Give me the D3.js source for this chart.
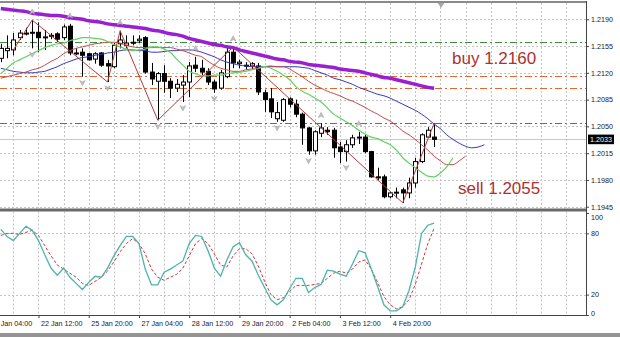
<!DOCTYPE html>
<html><head><meta charset="utf-8">
<script src="https://cdn.jsdelivr.net/npm/d3@7"></script>
<style>
body{margin:0;background:#fff;}
svg{display:block;font-family:"Liberation Sans",Arial,sans-serif;}
</style>
</head><body>
<svg id="c" width="620" height="337"></svg>
<script>
// ---------------- DATA ----------------
const open = [1.2139,1.2149,1.2150,1.2166,1.2172,1.2172,1.2173,1.2166,1.2168,1.2171,
1.2166,1.2181,1.2146,1.2147,1.2145,1.2138,1.2146,1.2132,1.2128,1.2158,
1.2156,1.2160,1.2162,1.2166,1.2121,1.2109,1.2119,1.2109,1.2100,1.2104,
1.2108,1.2130,1.2126,1.2122,1.2108,1.2100,1.2115,1.2147,1.2132,1.2130,
1.2129,1.2129,1.2094,1.2086,1.2060,1.2058,1.2086,1.2079,1.2066,1.2048,
1.2018,1.2041,1.2045,1.2045,1.2023,1.2017,1.2026,1.2035,1.2036,1.2017,
1.1984,1.1984,1.1958,1.1963,1.1967,1.1963,1.1976,1.2004,1.2036,1.2036];
const high = [1.2158,1.2169,1.2172,1.2176,1.2179,1.2189,1.2186,1.2176,1.2172,1.2173,
1.2183,1.2184,1.2152,1.2152,1.2146,1.2147,1.2147,1.2137,1.2159,1.2175,
1.2169,1.2169,1.2169,1.2168,1.2133,1.2121,1.2130,1.2113,1.2112,1.2117,
1.2134,1.2141,1.2137,1.2126,1.2111,1.2124,1.2156,1.2154,1.2137,1.2134,
1.2134,1.2133,1.2098,1.2100,1.2082,1.2087,1.2088,1.2085,1.2068,1.2049,
1.2045,1.2054,1.2049,1.2048,1.2030,1.2032,1.2039,1.2043,1.2039,1.2018,
1.1996,1.1987,1.1964,1.1970,1.1970,1.1983,1.2009,1.2041,1.2049,1.2054];
const low = [1.2134,1.2139,1.2143,1.2163,1.2169,1.2152,1.2147,1.2150,1.2164,1.2160,
1.2163,1.2143,1.2143,1.2115,1.2136,1.2132,1.2128,1.2108,1.2126,1.2152,
1.2152,1.2156,1.2159,1.2119,1.2104,1.2058,1.2094,1.2087,1.2095,1.2082,
1.2088,1.2121,1.2117,1.2104,1.2094,1.2098,1.2113,1.2126,1.2126,1.2124,
1.2124,1.2091,1.2069,1.2061,1.2056,1.2056,1.2075,1.2062,1.2026,1.2013,
1.2013,1.2036,1.2039,1.2009,1.2002,1.2004,1.2022,1.2027,1.2015,1.1983,
1.1980,1.1956,1.1956,1.1956,1.1950,1.1956,1.1970,1.2002,1.2035,1.2023];
const close = [1.2152,1.2152,1.2163,1.2172,1.2171,1.2173,1.2166,1.2167,1.2169,1.2164,
1.2180,1.2146,1.2145,1.2143,1.2137,1.2145,1.2130,1.2129,1.2156,1.2163,
1.2159,1.2159,1.2164,1.2121,1.2112,1.2119,1.2109,1.2100,1.2105,1.2108,
1.2129,1.2126,1.2121,1.2108,1.2099,1.2120,1.2147,1.2133,1.2134,1.2129,
1.2132,1.2095,1.2085,1.2069,1.2068,1.2085,1.2079,1.2066,1.2048,1.2018,
1.2043,1.2048,1.2043,1.2022,1.2017,1.2026,1.2035,1.2036,1.2017,1.1984,
1.1983,1.1958,1.1963,1.1964,1.1963,1.1976,1.2004,1.2039,1.2045,1.2033];

const maSlow = [1.2204,1.2203,1.2202,1.2201,1.2200,1.2198,1.2197,1.2196,1.2195,1.2195,
1.2194,1.2192,1.2191,1.2190,1.2188,1.2187,1.2186,1.2184,1.2183,1.2182,
1.2181,1.2180,1.2179,1.2178,1.2176,1.2175,1.2173,1.2171,1.2170,1.2168,
1.2165,1.2163,1.2161,1.2159,1.2157,1.2156,1.2154,1.2153,1.2150,1.2148,
1.2146,1.2144,1.2142,1.2140,1.2138,1.2137,1.2135,1.2134,1.2133,1.2131,
1.2130,1.2129,1.2128,1.2127,1.2125,1.2124,1.2123,1.2122,1.2120,1.2118,
1.2116,1.2114,1.2113,1.2111,1.2109,1.2107,1.2105,1.2103,1.2101,1.2100];

const jaw = [1.2126,1.2124,1.2122,1.2121,1.2120,1.2120,1.2121,1.2122,1.2125,1.2128,
1.2132,1.2135,1.2138,1.2140,1.2141,1.2143,1.2144,1.2146,1.2147,1.2149,
1.2150,1.2150,1.2149,1.2149,1.2147,1.2147,1.2148,1.2149,1.2149,1.2150,
1.2150,1.2149,1.2147,1.2144,1.2141,1.2137,1.2134,1.2132,1.2130,1.2129,
1.2128,1.2128,1.2128,1.2128,1.2128,1.2128,1.2128,1.2128,1.2127,1.2126,
1.2123,1.2120,1.2117,1.2113,1.2111,1.2108,1.2105,1.2101,1.2098,1.2095,
1.2092,1.2090,1.2087,1.2083,1.2079,1.2075,1.2071,1.2066,1.2060,1.2053,
1.2047,1.2039,1.2033,1.2028,1.2024,1.2022,1.2023,1.2026];

const teeth = [1.2113,1.2115,1.2117,1.2119,1.2121,1.2124,1.2126,1.2130,1.2135,1.2139,
1.2145,1.2149,1.2152,1.2154,1.2156,1.2158,1.2159,1.2160,1.2160,1.2159,
1.2156,1.2154,1.2153,1.2153,1.2153,1.2153,1.2153,1.2153,1.2151,1.2149,
1.2146,1.2143,1.2141,1.2135,1.2130,1.2126,1.2124,1.2122,1.2122,1.2124,
1.2125,1.2126,1.2128,1.2129,1.2128,1.2128,1.2125,1.2120,1.2115,1.2109,
1.2104,1.2100,1.2096,1.2093,1.2090,1.2086,1.2083,1.2079,1.2075,1.2070,
1.2066,1.2061,1.2057,1.2051,1.2044,1.2039,1.2033,1.2026,1.2019,1.2011,
1.2005,1.2000,1.2000,1.2005,1.2011];

const lips = [1.2119,1.2126,1.2133,1.2137,1.2141,1.2145,1.2149,1.2153,1.2156,1.2158,
1.2159,1.2162,1.2164,1.2166,1.2166,1.2165,1.2164,1.2161,1.2157,1.2154,
1.2151,1.2149,1.2150,1.2151,1.2154,1.2154,1.2151,1.2147,1.2138,1.2130,
1.2122,1.2119,1.2116,1.2116,1.2117,1.2117,1.2119,1.2120,1.2121,1.2122,
1.2124,1.2126,1.2128,1.2126,1.2122,1.2117,1.2111,1.2102,1.2096,1.2092,
1.2087,1.2082,1.2074,1.2066,1.2061,1.2056,1.2051,1.2045,1.2040,1.2036,
1.2034,1.2030,1.2026,1.2019,1.2009,1.2002,1.1996,1.1990,1.1985,1.1984,
1.1989,1.1997,1.2009];

const zigzagIdx   = [2, 5, 17, 19, 25, 37, 64, 69];
const zigzagPrice = [1.2150, 1.2189, 1.2108, 1.2175, 1.2058, 1.2154, 1.1950, 1.2054];

const fractalUpIdx   = [5, 11, 19, 31, 37, 51, 57];
const fractalDownIdx = [5, 13, 17, 25, 29, 34, 44, 49, 55, 64];

const greenLevels  = [1.2160, 1.2055];
const orangeLevels = [1.2116, 1.2100];
const lastPrice = 1.2033;
const annotationTexts = ["buy 1.2160", "sell 1.2055"];

const stochMain = [84,77,73,80,87,83,73,59,46,39,46,37,31,25,32,38,37,46,58,68,
77,77,70,45,29.5,29.5,42,45,49,53,70,78,77,63,46,38,54,67,71,59,
53,39,27,15,10,15,26,36,36,22,27,30,44,43,40,38,50,63,61,45,
28,10,4,4,8,24,47,80,88,90];
const stochSignal = [78,80,80,79,81,83,78,68,58,49,45,41,37,31,29,33,37,43,52,62,
70,75,70,60,45,37,34,37,40,46,58,70,75,70,60,49,47,58,65,65,
60,48,33,20,15,17,23,29,29,29,30,31,36,41,43,41,45,52,54,45,
32,18,10,6,8,15,30,50,70,85];

const priceTicks = [1.1945,1.1980,1.2015,1.2050,1.2085,1.2120,1.2155,1.2190];
const stochTicks = [0,20,80,100];
const timeTickIdx = [-2,6,14,22,30,38,46,54,62];
const timeTickLabels = ["21 Jan 04:00","22 Jan 12:00","25 Jan 20:00","27 Jan 04:00",
  "28 Jan 12:00","29 Jan 20:00","2 Feb 04:00","3 Feb 12:00","4 Feb 20:00"];

// ---------------- LAYOUT ----------------
const AX = 586;
const MAIN_T = 3, MAIN_B = 208.5;
const SUB_T = 211.5, SUB_B = 315;
const svg = d3.select("#c");

const x  = d3.scaleLinear().domain([0, 1]).range([0.8, 7.08]);
const y  = d3.scaleLinear().domain([1.1945, 1.2190]).range([206.7, 19.3]);
const ys = d3.scaleLinear().domain([0, 100]).range([315, 213]);

const defs = svg.append("defs");
defs.append("clipPath").attr("id","cm").append("rect")
  .attr("x",0).attr("y",MAIN_T).attr("width",AX).attr("height",MAIN_B-MAIN_T);
defs.append("clipPath").attr("id","cs").append("rect")
  .attr("x",0).attr("y",SUB_T).attr("width",AX).attr("height",SUB_B-SUB_T);

const gridColor = "#c4c4c4";
const gridIdx = d3.range(2, 95, 4).filter(i => x(i) < AX);

// ---------- main pane ----------
const gm = svg.append("g").attr("clip-path","url(#cm)");
gm.selectAll("line.vg").data(gridIdx).join("line")
  .attr("x1",d=>Math.round(x(d))+0.5).attr("x2",d=>Math.round(x(d))+0.5)
  .attr("y1",MAIN_T).attr("y2",MAIN_B)
  .attr("stroke",gridColor).attr("stroke-dasharray","2,2");
gm.selectAll("line.hg").data(priceTicks).join("line")
  .attr("x1",0).attr("x2",AX)
  .attr("y1",d=>Math.round(y(d))+0.5).attr("y2",d=>Math.round(y(d))+0.5)
  .attr("stroke",gridColor).attr("stroke-dasharray","2,2");

gm.append("line").attr("x1",0).attr("x2",AX)
  .attr("y1",Math.round(y(lastPrice))+0.5).attr("y2",Math.round(y(lastPrice))+0.5)
  .attr("stroke","#c8c8c8").attr("stroke-width",1);

gm.selectAll("line.gl").data(greenLevels).join("line")
  .attr("x1",0).attr("x2",AX)
  .attr("y1",d=>Math.round(y(d))+0.5).attr("y2",d=>Math.round(y(d))+0.5)
  .attr("stroke","#3f8a3f").attr("stroke-dasharray","7,3,2,3");
gm.selectAll("line.ol").data(orangeLevels).join("line")
  .attr("x1",0).attr("x2",AX)
  .attr("y1",d=>Math.round(y(d))+0.5).attr("y2",d=>Math.round(y(d))+0.5)
  .attr("stroke","#e0682e").attr("stroke-dasharray","7,3,2,3");

// candles
const idx = d3.range(open.length);
const cg = gm.append("g");
cg.selectAll("line.w").data(idx).join("line")
  .attr("x1",i=>Math.round(x(i))+0.5).attr("x2",i=>Math.round(x(i))+0.5)
  .attr("y1",i=>y(high[i])).attr("y2",i=>y(low[i]))
  .attr("stroke","#000").attr("stroke-width",1);
cg.selectAll("rect.b").data(idx).join("rect")
  .attr("x",i=>Math.round(x(i))-1.5)
  .attr("y",i=>Math.min(y(open[i]),y(close[i])))
  .attr("width",4)
  .attr("height",i=>Math.max(1,Math.abs(y(open[i])-y(close[i]))))
  .attr("fill",i=>close[i]>=open[i]?"#fff":"#000")
  .attr("stroke","#000").attr("stroke-width",1);

// moving averages
const lineP = d3.line().x((d,i)=>x(i)).y(d=>y(d)).curve(d3.curveMonotoneX);
gm.append("path").attr("d",lineP(jaw)).attr("fill","none").attr("stroke","#3636b8").attr("stroke-width",1);
gm.append("path").attr("d",lineP(teeth)).attr("fill","none").attr("stroke","#c44848").attr("stroke-width",1);
gm.append("path").attr("d",lineP(lips)).attr("fill","none").attr("stroke","#62d262").attr("stroke-width",1.2);
gm.append("path").attr("d",lineP(maSlow)).attr("fill","none").attr("stroke","#9a1ed2").attr("stroke-width",3.5);

// zigzag
const zz = zigzagIdx.map((d,k)=>[x(d), y(zigzagPrice[k])]);
gm.append("path").attr("d",d3.line()(zz)).attr("fill","none").attr("stroke","#b53a3a").attr("stroke-width",1);

// fractals
gm.selectAll("path.fu").data(fractalUpIdx).join("path")
  .attr("transform",i=>`translate(${x(i)},${y(high[i])-8})`)
  .attr("d","M0,-3 L2.8,2.2 L0,0.8 L-2.8,2.2 Z")
  .attr("fill","#c2c2c2").attr("stroke","#9a9a9a").attr("stroke-width",0.5);
gm.selectAll("path.fd").data(fractalDownIdx).join("path")
  .attr("transform",i=>`translate(${x(i)},${y(low[i])+6})`)
  .attr("d","M0,3 L2.8,-2.2 L0,-0.8 L-2.8,-2.2 Z")
  .attr("fill","#c2c2c2").attr("stroke","#9a9a9a").attr("stroke-width",0.5);

// chart shift marker
svg.append("path").attr("d","M437,2 L445,2 L441,8 Z").attr("fill","#a8a8a8");

// annotations
svg.append("text").attr("x",452).attr("y",63.5).text(annotationTexts[0])
  .attr("font-size",17).attr("fill","#b0302e");
svg.append("text").attr("x",458).attr("y",194).text(annotationTexts[1])
  .attr("font-size",17).attr("fill","#b0302e");

// ---------- sub pane (stochastic) ----------
const gs = svg.append("g").attr("clip-path","url(#cs)");
gs.selectAll("line.vg").data(gridIdx).join("line")
  .attr("x1",d=>Math.round(x(d))+0.5).attr("x2",d=>Math.round(x(d))+0.5)
  .attr("y1",SUB_T).attr("y2",SUB_B)
  .attr("stroke",gridColor).attr("stroke-dasharray","2,2");
gs.selectAll("line.hg").data([20,80]).join("line")
  .attr("x1",0).attr("x2",AX)
  .attr("y1",d=>Math.round(ys(d))+0.5).attr("y2",d=>Math.round(ys(d))+0.5)
  .attr("stroke",gridColor).attr("stroke-dasharray","2,2");
const lineS = d3.line().x((d,i)=>x(i)).y(d=>ys(d));
gs.append("path").attr("d",lineS(stochSignal)).attr("fill","none")
  .attr("stroke","#c43a3a").attr("stroke-width",1).attr("stroke-dasharray","3,2");
gs.append("path").attr("d",lineS(stochMain)).attr("fill","none")
  .attr("stroke","#4db3ab").attr("stroke-width",1.3);

// ---------- frames ----------
svg.append("rect").attr("x",0).attr("y",1).attr("width",AX).attr("height",2).attr("fill","#8a8a8a");
svg.append("rect").attr("x",0).attr("y",MAIN_B).attr("width",AX+1).attr("height",3).attr("fill","#6a6a6a");
svg.append("line").attr("x1",AX+0.5).attr("x2",AX+0.5).attr("y1",1).attr("y2",SUB_B+0.5)
  .attr("stroke","#444");
svg.append("line").attr("x1",0).attr("x2",AX+1).attr("y1",SUB_B+0.5).attr("y2",SUB_B+0.5)
  .attr("stroke","#444");
svg.append("rect").attr("x",0).attr("y",333).attr("width",620).attr("height",4).attr("fill","#949494");

// ---------- axes ----------
function styleAxis(g){
  g.select(".domain").remove();
  g.selectAll(".tick line").attr("stroke","#444");
  g.selectAll(".tick text").attr("fill","#1a1a1a").attr("font-size",7.2);
}
svg.append("g").attr("transform",`translate(${AX},0)`)
  .call(d3.axisRight(y).tickValues(priceTicks).tickFormat(d3.format(".4f")).tickSize(3).tickPadding(2))
  .call(styleAxis);

const sa = svg.append("g").attr("transform",`translate(${AX},0)`)
  .call(d3.axisRight(ys).tickValues(stochTicks).tickFormat(d3.format("d")).tickSize(3).tickPadding(2))
  .call(styleAxis);
sa.selectAll(".tick text").attr("dy",d=>d===100?"0.95em":(d===0?"0.05em":"0.32em"));

svg.append("g").attr("transform",`translate(0,${SUB_B})`)
  .call(d3.axisBottom(x).tickValues(timeTickIdx).tickFormat((d,i)=>timeTickLabels[i]).tickSize(3).tickPadding(3))
  .call(styleAxis)
  .selectAll(".tick text").attr("text-anchor","start").attr("dx",2);

// last price tag
svg.append("rect").attr("x",588).attr("y",y(lastPrice)-4.8).attr("width",26).attr("height",9.6).attr("fill","#000");
svg.append("text").attr("x",590).attr("y",y(lastPrice)).attr("dy","0.34em")
  .attr("font-size",7.2).attr("fill","#fff").text(d3.format(".4f")(lastPrice));
</script>
</body></html>
